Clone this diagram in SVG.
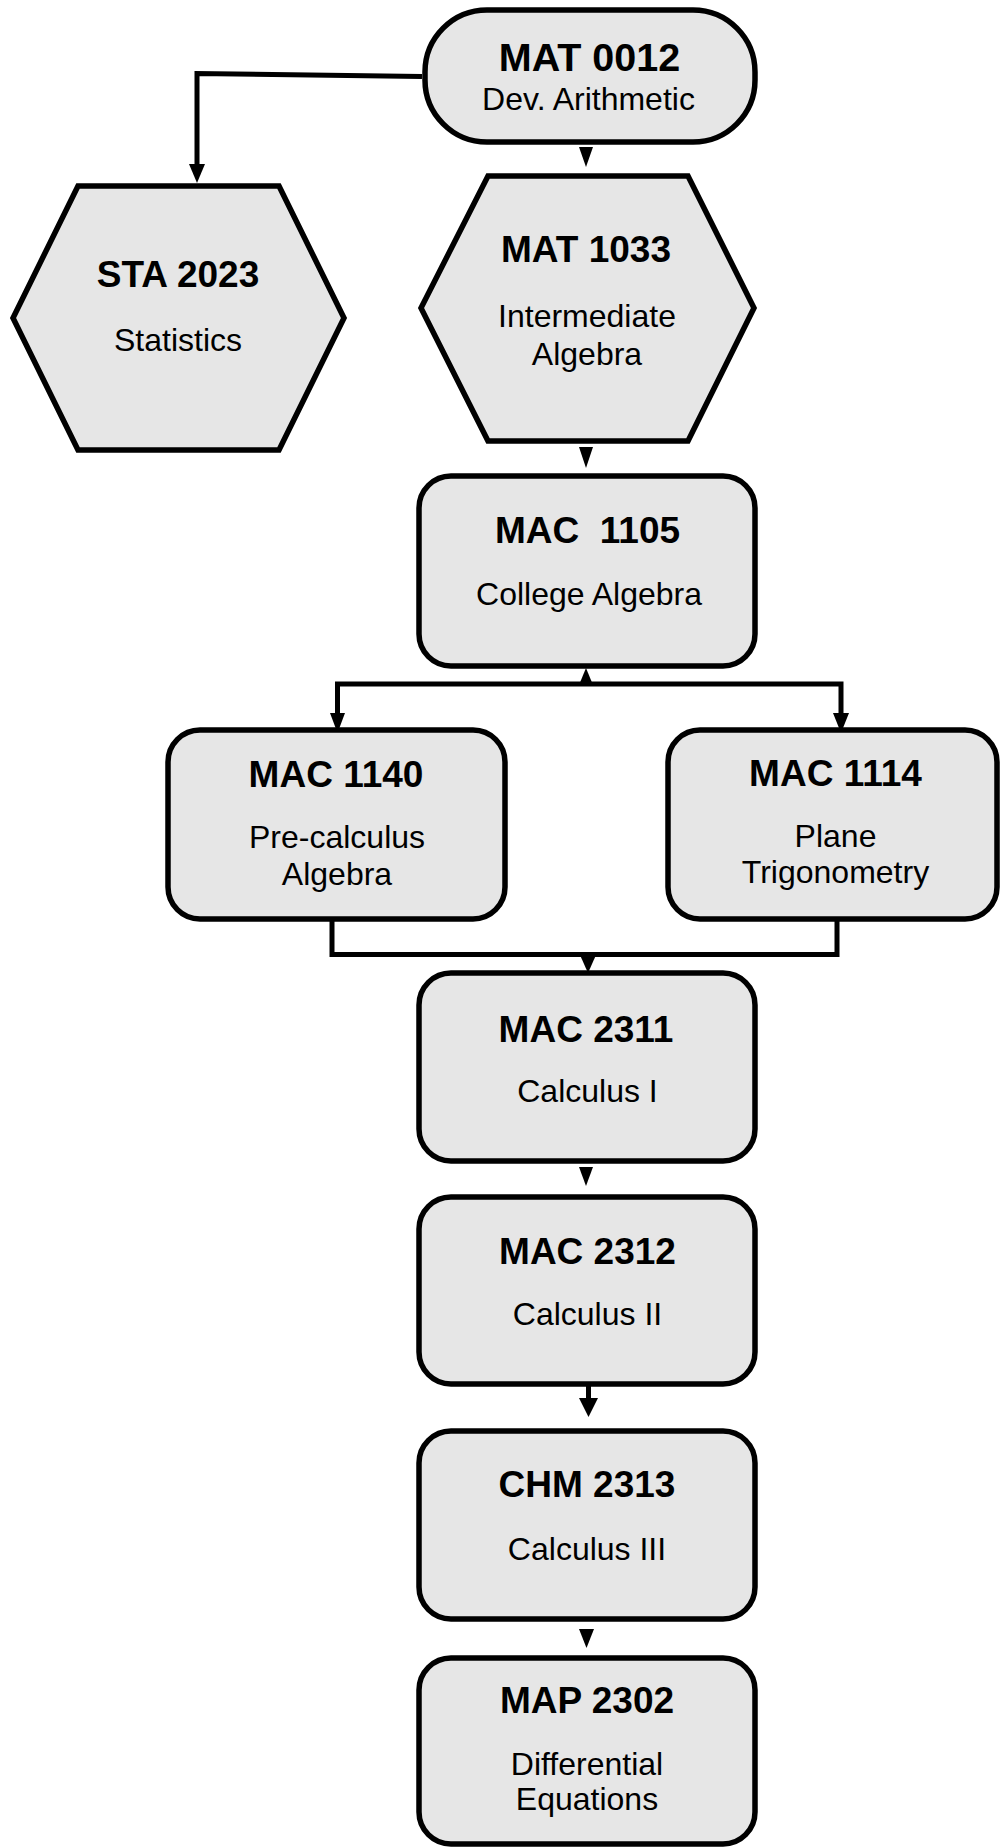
<svg xmlns="http://www.w3.org/2000/svg" width="1000" height="1847" viewBox="0 0 1000 1847">
<style>
.box{fill:#e6e6e6;stroke:#000;stroke-width:5.5;stroke-linejoin:miter}
.t{font-family:"Liberation Sans",Arial,sans-serif;font-weight:bold;font-size:37px;text-anchor:middle;fill:#000}
.s{font-family:"Liberation Sans",Arial,sans-serif;font-size:32px;text-anchor:middle;fill:#000}
.ln{fill:none;stroke:#000;stroke-width:5}
.ah{fill:#000;stroke:none}
</style>
<rect width="1000" height="1847" fill="#fff"/>
<g id="connectors">
<polyline class="ln" points="422,76.5 197,73.5 197,166"/>
<polygon class="ah" points="189,164 205,164 197,183"/>
<polygon class="ah" points="579,147 593,147 586,167"/>
<polygon class="ah" points="579,447 593,447 586,468"/>
<polyline class="ln" points="337.5,716 337.5,684 841,684 841,716"/>
<polygon class="ah" points="579,685 593,685 586,668"/>
<polygon class="ah" points="330,713 345,713 337.5,733"/>
<polygon class="ah" points="833,713 849,713 841,733"/>
<polyline class="ln" points="332,921 332,954.5 837,954.5 837,921"/>
<polygon class="ah" points="580,955 596,955 588,973"/>
<polygon class="ah" points="579,1167 593,1167 586,1186"/>
<line class="ln" x1="588.5" y1="1386" x2="588.5" y2="1400"/>
<polygon class="ah" points="579,1398 598,1398 588.5,1417"/>
<polygon class="ah" points="579,1629 594,1629 586.5,1648"/>
</g>
<g id="mat0012">
<rect class="box" x="425" y="10" width="330" height="132" rx="62" ry="62"/>
<text class="t" x="589.5" y="71" style="font-size:39.5px">MAT 0012</text>
<text class="s" x="588.5" y="110">Dev. Arithmetic</text>
</g>
<g id="sta2023">
<polygon class="box" points="78,186 279,186 344,318 279,450 78,450 13,318"/>
<text class="t" x="178" y="287">STA 2023</text>
<text class="s" x="178" y="351">Statistics</text>
</g>
<g id="mat1033">
<polygon class="box" points="488,176 688,176 754,308 688,441 488,441 421,308"/>
<text class="t" x="586" y="262">MAT 1033</text>
<text class="s" x="587" y="327">Intermediate</text>
<text class="s" x="587" y="365">Algebra</text>
</g>
<g id="mac1105">
<rect class="box" x="419" y="476" width="336" height="190" rx="32"/>
<text class="t" x="587.5" y="543" xml:space="preserve">MAC  1105</text>
<text class="s" x="589" y="605">College Algebra</text>
</g>
<g id="mac1140">
<rect class="box" x="168" y="730" width="337" height="189" rx="32"/>
<text class="t" x="336" y="787">MAC 1140</text>
<text class="s" x="337" y="848">Pre-calculus</text>
<text class="s" x="337" y="885">Algebra</text>
</g>
<g id="mac1114">
<rect class="box" x="668" y="730" width="329" height="189" rx="32"/>
<text class="t" x="835.5" y="786">MAC 1114</text>
<text class="s" x="835.5" y="847">Plane</text>
<text class="s" x="835.5" y="883">Trigonometry</text>
</g>
<g id="mac2311">
<rect class="box" x="419" y="973" width="336" height="188" rx="32"/>
<text class="t" x="586" y="1042">MAC 2311</text>
<text class="s" x="587.5" y="1102">Calculus I</text>
</g>
<g id="mac2312">
<rect class="box" x="419" y="1197" width="336" height="187" rx="32"/>
<text class="t" x="587.5" y="1264">MAC 2312</text>
<text class="s" x="587.5" y="1325">Calculus II</text>
</g>
<g id="chm2313">
<rect class="box" x="419" y="1431" width="336" height="188" rx="32"/>
<text class="t" x="587" y="1497">CHM 2313</text>
<text class="s" x="587" y="1560">Calculus III</text>
</g>
<g id="map2302">
<rect class="box" x="419" y="1658" width="336" height="186" rx="32"/>
<text class="t" x="587" y="1713">MAP 2302</text>
<text class="s" x="587" y="1775">Differential</text>
<text class="s" x="587" y="1810">Equations</text>
</g>
</svg>
